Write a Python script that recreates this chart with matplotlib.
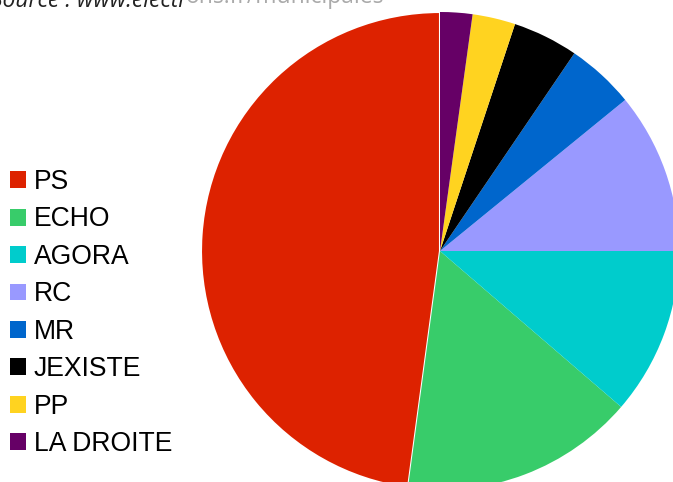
import matplotlib
matplotlib.use("Agg")
import matplotlib.pyplot as plt
from matplotlib.patches import Patch

labels = ["PS", "ECHO", "AGORA", "RC", "MR", "JEXISTE", "PP", "LA DROITE"]
values = [47.86, 15.83, 11.31, 10.89, 4.61, 4.42, 2.90, 2.18]
colors = ["#DD2200", "#38CC6A", "#00CCCC", "#9999FF", "#0066CC", "#000000", "#FFD320", "#660066"]

W, H = 673, 482
fig = plt.figure(figsize=(W / 100, H / 100), dpi=100)
ax = fig.add_axes([0, 0, 1, 1])

cx, cy, r = 440, 251, 239
wedges, _ = ax.pie(values, colors=colors, startangle=90, counterclock=True,
                   radius=1.0, center=(0, 0))
wedges[0].set_edgecolor("white")
wedges[0].set_linewidth(1.5)

ax.set_aspect("auto")
ax.set_xlim(-cx / r, (W - cx) / r)
ax.set_ylim((cy - H) / r, cy / r)
ax.axis("off")

handles = [Patch(facecolor=c, edgecolor="none") for c in colors]
leg = fig.legend(handles, labels, loc="center left",
                 bbox_to_anchor=(10 / W, 1 - 313 / H),
                 frameon=False, prop={"family": "Liberation Sans", "size": 19.1},
                 handlelength=0.6, handleheight=0.6, handletextpad=0.3,
                 labelspacing=0.43, borderaxespad=0, borderpad=0)

fig.text(-9 / W, 1 - 7 / H, "Source : www.electi", fontsize=16.5, style="italic",
         family="Open Sans", color="#222222", va="baseline", ha="left")
fig.text(186 / W, 1 - 3 / H, "ons.fr/municipales", fontsize=16.5,
         family="Open Sans", color="#aaaaaa", va="baseline", ha="left")

fig.savefig("out.png", dpi=100)
